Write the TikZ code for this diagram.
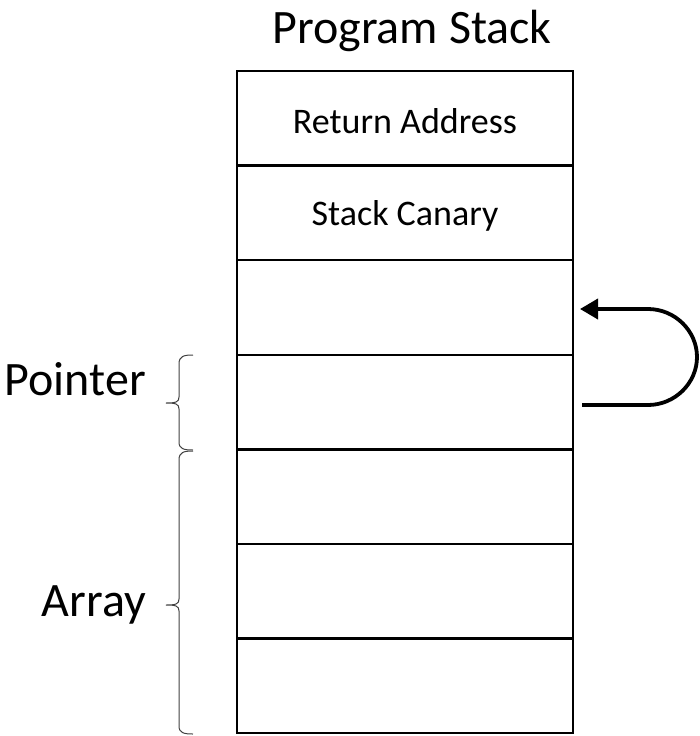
\documentclass[tikz,border=0pt]{standalone}
\usepackage{fontspec}
\setmainfont{Carlito}
\usetikzlibrary{arrows.meta}
\begin{document}
\begin{tikzpicture}[x=1pt,y=-1pt,
  cell/.style={draw=black,line width=2.4pt,minimum width=336pt,minimum height=94.6pt,inner sep=0pt},
  celltxt/.style={font=\fontsize{36}{40}\selectfont,inner sep=0pt},
  bigtxt/.style={font=\fontsize{48}{54}\selectfont,inner sep=0pt},
  bracepath/.style={draw=black!75,line width=1pt},
  loop/.style={draw=black,line width=3.8pt,-{Triangle[length=18pt,width=20pt]}}]
\useasboundingbox (0,0) rectangle (700,736);
\node[bigtxt] (title) at (412,31) {Program Stack};
\node[cell] (c1) at (405,118.3) {};
\node[cell] (c2) at (405,212.9) {};
\node[cell] (c3) at (405,307.5) {};
\node[cell] (c4) at (405,402.1) {};
\node[cell] (c5) at (405,496.7) {};
\node[cell] (c6) at (405,591.3) {};
\node[cell] (c7) at (405,685.9) {};
\node[celltxt] (t1) at ([yshift=-3pt]c1.center) {Return Address};
\node[celltxt] (t2) at ([yshift=-3pt]c2.center) {Stack Canary};
\node[bigtxt,anchor=east] (ptr) at (146,379) {Pointer};
\node[bigtxt,anchor=east] (arr) at (146,605) {Array};
% braces
\coordinate (pt) at (193,355);
\coordinate (pm) at (166,403);
\coordinate (pb) at (193,450);
\coordinate (at) at (193,451);
\coordinate (am) at (166,605);
\coordinate (ab) at (193,734);
\draw[bracepath] (pt) .. controls (184,355) and (179,356) .. (179,364) -- (179,397) .. controls (179,402) and (176,403) .. (pm)
  .. controls (176,403) and (179,404) .. (179,409) -- (179,442) .. controls (179,449) and (184,450) .. (pb);
\draw[bracepath] (at) .. controls (184,451) and (179,452) .. (179,460) -- (179,599) .. controls (179,604) and (176,605) .. (am)
  .. controls (176,605) and (179,606) .. (179,611) -- (179,726) .. controls (179,733) and (184,734) .. (ab);
% loop arrow
\coordinate (s) at (582,405);
\coordinate (e) at (580,309);
\draw[loop] (s) -- (648,405) .. controls (675,405) and (697,383) .. (697,357) .. controls (697,331) and (675,309) .. (648,309) -- (e);
\end{tikzpicture}
\end{document}
